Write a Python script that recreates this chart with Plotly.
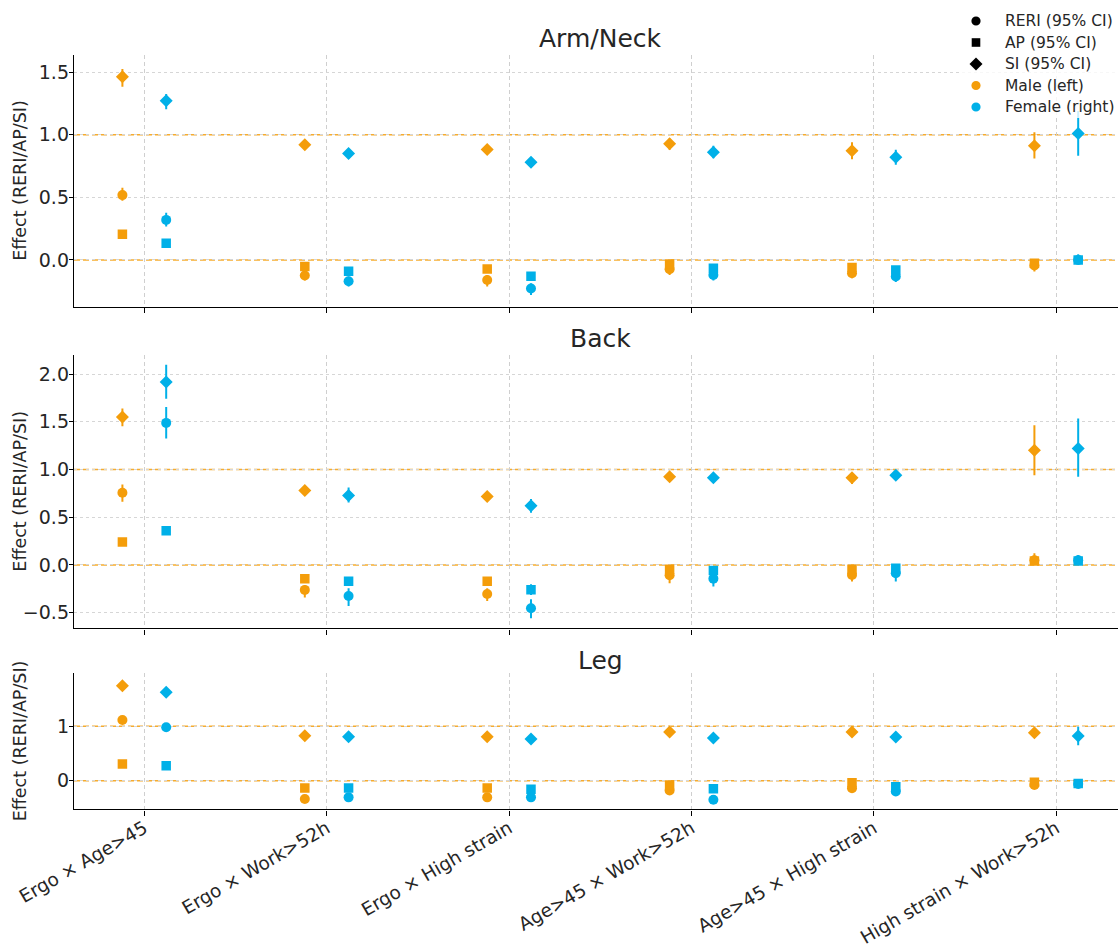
import plotly.graph_objects as go

# Interaction categories (x axis)
categories = ["Ergo × Age>45", "Ergo × Work>52h", "Ergo × High strain",
              "Age>45 × Work>52h", "Age>45 × High strain", "High strain × Work>52h"]

# Each entry: (estimate, lower 95% CI, upper 95% CI), one per category
# ---- Arm/Neck ----
arm_male_reri = [(0.518, 0.473, 0.577), (-0.125, -0.165, -0.080), (-0.160, -0.213, -0.120),
                 (-0.075, -0.120, -0.040), (-0.107, -0.147, -0.070), (-0.045, -0.093, 0.005)]
arm_female_reri = [(0.320, 0.267, 0.378), (-0.170, -0.213, -0.133), (-0.229, -0.280, -0.187),
                   (-0.120, -0.165, -0.080), (-0.133, -0.176, -0.095), (0.000, -0.030, 0.030)]
arm_male_ap = [(0.205, 0.190, 0.220), (-0.053, -0.070, -0.035), (-0.072, -0.090, -0.055),
               (-0.032, -0.050, -0.015), (-0.061, -0.080, -0.045), (-0.027, -0.045, -0.010)]
arm_female_ap = [(0.133, 0.120, 0.145), (-0.090, -0.105, -0.075), (-0.131, -0.150, -0.115),
                 (-0.067, -0.085, -0.050), (-0.080, -0.100, -0.060), (0.000, -0.020, 0.045)]
arm_male_si = [(1.465, 1.385, 1.526), (0.920, 0.895, 0.945), (0.883, 0.860, 0.905),
               (0.928, 0.880, 0.970), (0.872, 0.805, 0.940), (0.912, 0.811, 1.020)]
arm_female_si = [(1.273, 1.204, 1.326), (0.851, 0.830, 0.872), (0.781, 0.760, 0.800),
                 (0.861, 0.813, 0.912), (0.821, 0.760, 0.880), (1.011, 0.832, 1.190)]

# ---- Back ----
back_male_reri = [(0.756, 0.662, 0.843), (-0.261, -0.341, -0.209), (-0.303, -0.376, -0.244),
                  (-0.108, -0.190, -0.050), (-0.105, -0.174, -0.050), (0.050, 0.000, 0.100)]
back_female_reri = [(1.488, 1.324, 1.655), (-0.324, -0.429, -0.244), (-0.453, -0.557, -0.359),
                    (-0.143, -0.226, -0.087), (-0.087, -0.174, -0.040), (0.050, 0.000, 0.100)]
back_male_ap = [(0.240, 0.225, 0.255), (-0.143, -0.165, -0.120), (-0.171, -0.190, -0.150),
                (-0.045, -0.065, -0.030), (-0.045, -0.065, -0.030), (0.042, 0.020, 0.122)]
back_female_ap = [(0.359, 0.345, 0.375), (-0.171, -0.190, -0.129), (-0.258, -0.314, -0.202),
                  (-0.059, -0.080, -0.020), (-0.035, -0.060, -0.010), (0.042, 0.020, 0.105)]
back_male_si = [(1.551, 1.453, 1.638), (0.780, 0.750, 0.810), (0.718, 0.690, 0.745),
                (0.923, 0.895, 0.950), (0.913, 0.847, 0.958), (1.202, 0.941, 1.463)]
back_female_si = [(1.916, 1.742, 2.098), (0.728, 0.655, 0.812), (0.620, 0.547, 0.690),
                  (0.913, 0.885, 0.940), (0.941, 0.905, 0.975), (1.220, 0.923, 1.533)]

# ---- Leg ----
leg_male_reri = [(1.116, 1.080, 1.150), (-0.337, -0.370, -0.300), (-0.307, -0.340, -0.270),
                 (-0.180, -0.220, -0.140), (-0.140, -0.180, -0.100), (-0.080, -0.110, -0.050)]
leg_female_reri = [(0.982, 0.950, 1.015), (-0.307, -0.340, -0.270), (-0.307, -0.340, -0.270),
                   (-0.350, -0.385, -0.315), (-0.200, -0.240, -0.160), (-0.060, -0.090, -0.030)]
leg_male_ap = [(0.307, 0.280, 0.335), (-0.135, -0.165, -0.105), (-0.135, -0.165, -0.105),
               (-0.080, -0.110, -0.050), (-0.040, -0.070, -0.010), (-0.030, -0.060, 0.000)]
leg_female_ap = [(0.276, 0.250, 0.300), (-0.135, -0.165, -0.105), (-0.160, -0.190, -0.130),
                 (-0.150, -0.180, -0.120), (-0.110, -0.140, -0.080), (-0.050, -0.080, -0.020)]
leg_male_si = [(1.748, 1.720, 1.775), (0.828, 0.800, 0.855), (0.810, 0.780, 0.840),
               (0.896, 0.865, 0.925), (0.896, 0.865, 0.925), (0.884, 0.855, 0.915)]
leg_female_si = [(1.626, 1.600, 1.655), (0.810, 0.780, 0.840), (0.767, 0.740, 0.795),
                 (0.787, 0.755, 0.815), (0.805, 0.775, 0.835), (0.823, 0.650, 0.990)]

regions = ["Arm/Neck", "Back", "Leg"]
y_ranges = [(-0.374, 1.638), (-0.663, 2.199), (-0.527, 1.976)]
y_ticks = [[0.0, 0.5, 1.0, 1.5], [-0.5, 0.0, 0.5, 1.0, 1.5, 2.0], [0, 1]]
y_formats = [".1f", ".1f", "d"]

series = [
    {"Arm/Neck": (arm_male_reri, arm_female_reri), "Back": (back_male_reri, back_female_reri),
     "Leg": (leg_male_reri, leg_female_reri), "symbol": "circle", "size": 10},
    {"Arm/Neck": (arm_male_ap, arm_female_ap), "Back": (back_male_ap, back_female_ap),
     "Leg": (leg_male_ap, leg_female_ap), "symbol": "square", "size": 9.5},
    {"Arm/Neck": (arm_male_si, arm_female_si), "Back": (back_male_si, back_female_si),
     "Leg": (leg_male_si, leg_female_si), "symbol": "diamond", "size": 10},
]

MALE = "#F49D0A"
FEMALE = "#00B0E8"

# legend rows: label, glyph, colour
legend_items = [("RERI (95% CI)", "circle", "black"), ("AP (95% CI)", "square", "black"),
                ("SI (95% CI)", "diamond", "black"), ("Male (left)", "circle", MALE),
                ("Female (right)", "circle", FEMALE)]

OFFSET = 0.12
W, H = 1118, 947

# pixel layout of the three panels (top, bottom)
panel_px = [(55, 306.7), (355, 628.3), (673.3, 809.3)]
x_left_px = 74
title_y_px = [38, 338, 660]

fig = go.Figure()

for p, region in enumerate(regions):
    xa = "x" if p == 0 else f"x{p+1}"
    ya = "y" if p == 0 else f"y{p+1}"
    # reference lines at 0 and 1, drawn first so the markers sit on top
    for yv in (0, 1):
        fig.add_shape(type="line", xref=f"{xa} domain", yref=ya, x0=0, x1=1, y0=yv, y1=yv,
                      line=dict(color="rgba(244,157,10,0.85)", width=1.5, dash="6px,3px"),
                      layer="below")
    for s in series:
        male, female = s[region]
        for data, color, off in ((male, MALE, -OFFSET), (female, FEMALE, OFFSET)):
            est = [d[0] for d in data]
            lo = [d[1] for d in data]
            hi = [d[2] for d in data]
            fig.add_trace(go.Scatter(
                x=[i + off for i in range(len(categories))], y=est,
                mode="markers", xaxis=xa, yaxis=ya, showlegend=False,
                marker=dict(symbol=s["symbol"], size=s["size"], color=color,
                            line=dict(width=0)),
                error_y=dict(type="data", symmetric=False,
                             array=[h - e for h, e in zip(hi, est)],
                             arrayminus=[e - l for e, l in zip(est, lo)],
                             color=color, thickness=2, width=0),
                hoverinfo="skip"))

x_right_val = (W - 144.3) / 182.4
x_left_val = (x_left_px - 144.3) / 182.4

layout = dict(
    width=W, height=H, margin=dict(l=0, r=0, t=0, b=0, autoexpand=False),
    paper_bgcolor="white", plot_bgcolor="white", showlegend=False,
    font=dict(family="DejaVu Sans", size=16, color="#262626"),
    annotations=[],
)

for p, region in enumerate(regions):
    top, bot = panel_px[p]
    xk = "xaxis" if p == 0 else f"xaxis{p+1}"
    yk = "yaxis" if p == 0 else f"yaxis{p+1}"
    anchor_y = "y" if p == 0 else f"y{p+1}"
    anchor_x = "x" if p == 0 else f"x{p+1}"
    layout[xk] = dict(
        domain=[x_left_px / W, 1], range=[x_left_val, x_right_val], anchor=anchor_y,
        tickmode="array", tickvals=list(range(len(categories))), ticktext=categories,
        showticklabels=(p == 2), tickangle=-30, tickfont=dict(size=18.5),
        ticklabelstandoff=-5, automargin=False,
        showgrid=True, gridcolor="#cfcfcf", gridwidth=1, griddash="4px,3px",
        showline=True, linecolor="black", linewidth=1.4, ticks="outside",
        ticklen=5, tickcolor="black", zeroline=False)
    layout[yk] = dict(
        domain=[1 - bot / H, 1 - top / H], range=list(y_ranges[p]), anchor=anchor_x,
        tickmode="array", tickvals=y_ticks[p], tickformat=y_formats[p],
        tickfont=dict(size=19), ticklabelstandoff=-4, automargin=False,
        showgrid=True, gridcolor="#d6d6d6", gridwidth=1, griddash="dot",
        showline=True, linecolor="black", linewidth=1.4, ticks="outside",
        ticklen=4, tickcolor="black", zeroline=False)
    layout["annotations"].append(dict(
        text=region, xref="paper", yref="paper", x=600 / W, y=1 - title_y_px[p] / H,
        xanchor="center", yanchor="middle", showarrow=False,
        font=dict(size=25, color="#262626")))
    layout["annotations"].append(dict(
        text="Effect (RERI/AP/SI)", xref="paper", yref="paper", x=20 / W,
        y=1 - (top + bot) / 2 / H, xanchor="center", yanchor="middle",
        textangle=-90, showarrow=False, font=dict(size=17.5, color="#262626")))

# legend block in the top-right corner: translucent backdrop, then glyph + label per row
glyph_x, text_x, row0, row_step = 976, 1003, 21, 21.5
px = lambda v: v / W
py = lambda v: 1 - v / H
fig.add_shape(type="rect", xref="paper", yref="paper",
              x0=px(962), x1=1, y0=py(118), y1=py(8),
              fillcolor="rgba(255,255,255,0.8)", line=dict(width=0), layer="above")
for k, (label, glyph, col) in enumerate(legend_items):
    cy = row0 + k * row_step
    if glyph == "circle":
        r = 4.6
        fig.add_shape(type="circle", xref="paper", yref="paper",
                      x0=px(glyph_x - r), x1=px(glyph_x + r), y0=py(cy + r), y1=py(cy - r),
                      fillcolor=col, line=dict(width=0), layer="above")
    elif glyph == "square":
        r = 4.3
        fig.add_shape(type="rect", xref="paper", yref="paper",
                      x0=px(glyph_x - r), x1=px(glyph_x + r), y0=py(cy + r), y1=py(cy - r),
                      fillcolor=col, line=dict(width=0), layer="above")
    else:
        r = 6.5
        path = (f"M {px(glyph_x)},{py(cy - r)} L {px(glyph_x + r)},{py(cy)} "
                f"L {px(glyph_x)},{py(cy + r)} L {px(glyph_x - r)},{py(cy)} Z")
        fig.add_shape(type="path", xref="paper", yref="paper", path=path,
                      fillcolor=col, line=dict(width=0), layer="above")
    layout["annotations"].append(dict(
        text=label, xref="paper", yref="paper", x=text_x / W, y=1 - cy / H,
        xanchor="left", yanchor="middle", showarrow=False,
        font=dict(size=15.5, color="#262626")))

fig.update_layout(**layout)
fig.write_html("out.html")
